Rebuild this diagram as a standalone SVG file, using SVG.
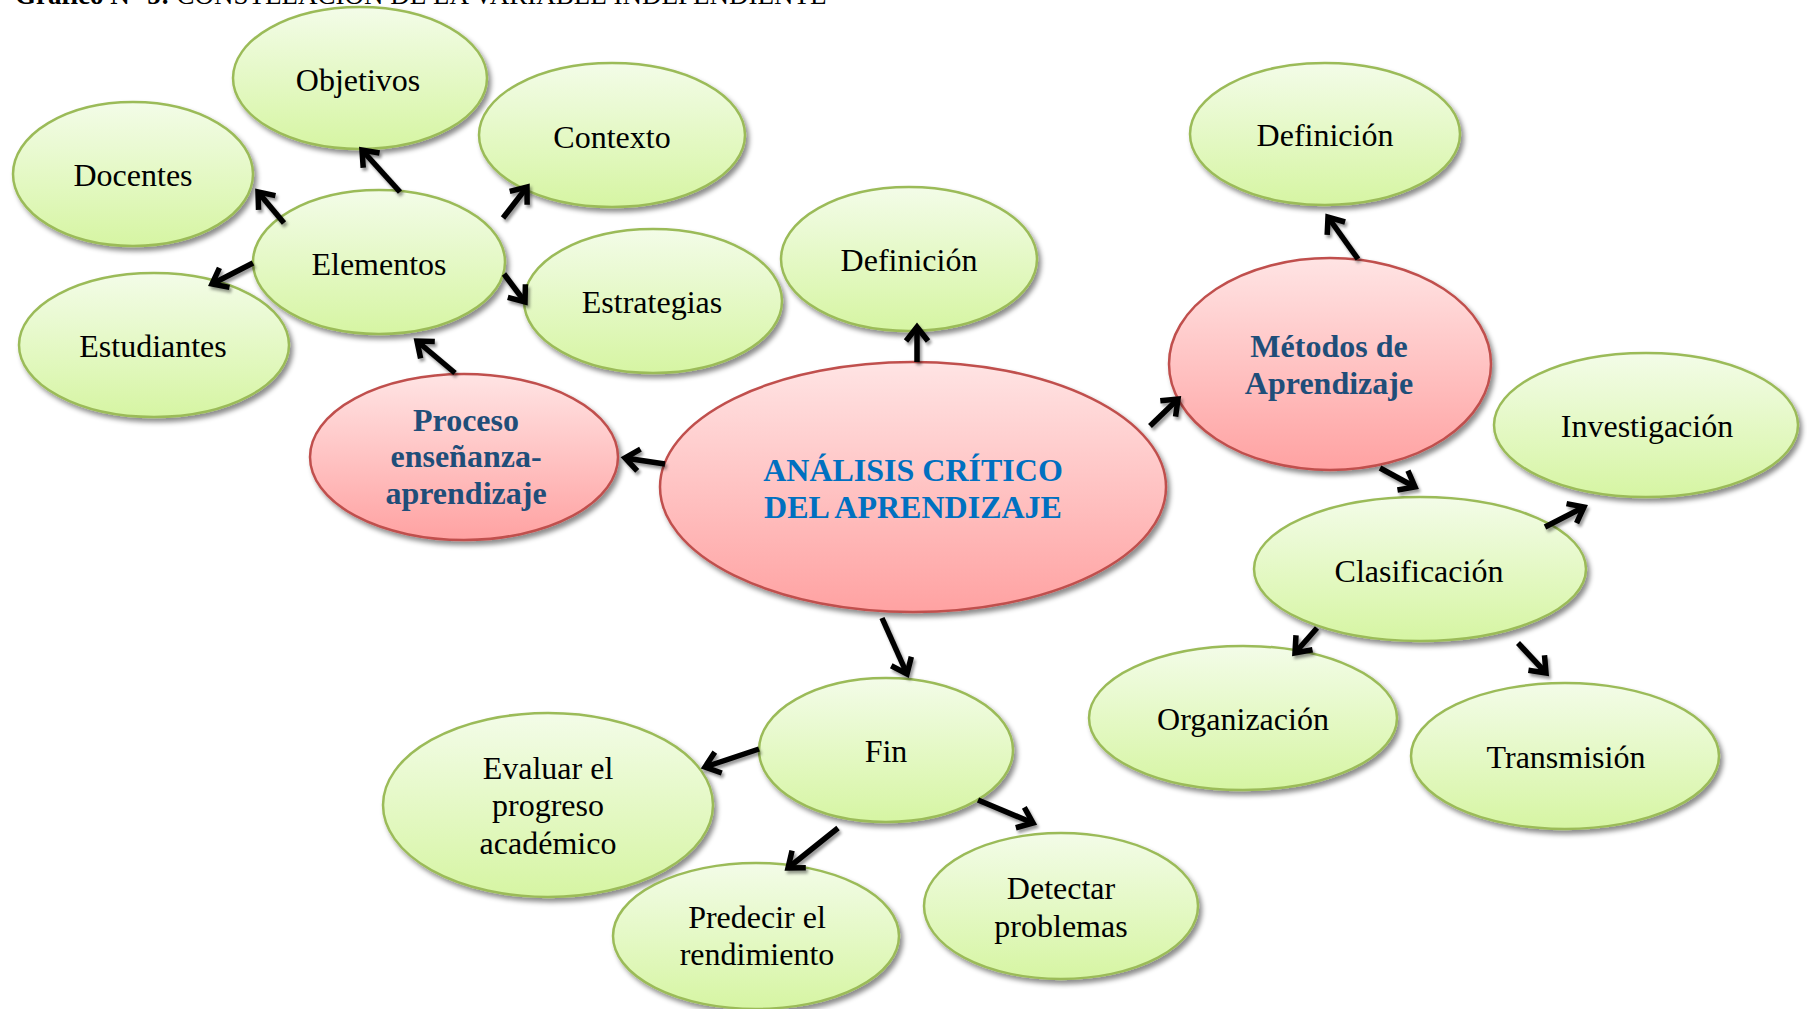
<svg xmlns="http://www.w3.org/2000/svg" width="1807" height="1009" viewBox="0 0 1807 1009">
<defs>
<style>
.g{fill:url(#gg);stroke:#9BBB59;stroke-width:2.5;filter:url(#sh)}
.r{fill:url(#rg);stroke:#C0504D;stroke-width:2.5;filter:url(#sh)}
.t{font-family:"Liberation Serif","Times New Roman",serif;font-size:32px;fill:#000;text-anchor:middle}
.tb{font-family:"Liberation Serif","Times New Roman",serif;font-size:32px;font-weight:bold;fill:#1F4E79;text-anchor:middle}
.tc{font-family:"Liberation Serif","Times New Roman",serif;font-size:32px;font-weight:bold;fill:#0070C0;text-anchor:middle}
.c{stroke:#000;stroke-width:5.5;fill:none;marker-end:url(#ah)}
</style>
<linearGradient id="gg" x1="0" y1="0" x2="0" y2="1">
<stop offset="0" stop-color="#F3FCE8"/>
<stop offset="1" stop-color="#D6F5A3"/>
</linearGradient>
<linearGradient id="rg" x1="0" y1="0" x2="0" y2="1">
<stop offset="0" stop-color="#FFE4E4"/>
<stop offset="1" stop-color="#FFA2A2"/>
</linearGradient>
<filter id="sh" x="-10%" y="-10%" width="125%" height="130%">
<feDropShadow dx="3" dy="4" stdDeviation="2.5" flood-color="#000" flood-opacity="0.45"/>
</filter>
<filter id="ash" x="-50%" y="-50%" width="200%" height="200%">
<feDropShadow dx="2" dy="3" stdDeviation="1.5" flood-color="#000" flood-opacity="0.4"/>
</filter>
<marker id="ah" markerUnits="userSpaceOnUse" markerWidth="40" markerHeight="40" viewBox="-20 -20 40 40" refX="0" refY="0" orient="auto" overflow="visible">
<path d="M-14,-11 L0,0 L-14,11" stroke="#000" stroke-width="5.5" fill="none" stroke-linejoin="miter"/>
</marker>
</defs>
<rect width="1807" height="1009" fill="#fff"/>
<text x="15" y="4" font-family="Liberation Serif, Times New Roman, serif" font-size="27" fill="#000"><tspan font-weight="bold">Gráfico N° 5:</tspan> CONSTELACIÓN DE LA VARIABLE INDEPENDIENTE</text>

<g id="node-objetivos"><ellipse class="g" cx="360" cy="78" rx="127" ry="71"/><text class="t" x="358" y="91">Objetivos</text></g>
<g id="node-docentes"><ellipse class="g" cx="133" cy="174" rx="120" ry="72"/><text class="t" x="133" y="186">Docentes</text></g>
<g id="node-estudiantes"><ellipse class="g" cx="154" cy="345" rx="135" ry="72"/><text class="t" x="153" y="357">Estudiantes</text></g>
<g id="node-contexto"><ellipse class="g" cx="612" cy="135" rx="133" ry="72"/><text class="t" x="612" y="148">Contexto</text></g>
<g id="node-elementos"><ellipse class="g" cx="379" cy="262" rx="126" ry="72"/><text class="t" x="379" y="275">Elementos</text></g>
<g id="node-estrategias"><ellipse class="g" cx="653" cy="301" rx="129" ry="72"/><text class="t" x="652" y="313">Estrategias</text></g>
<g id="node-definicion1"><ellipse class="g" cx="909" cy="259" rx="128" ry="72"/><text class="t" x="909" y="271">Definición</text></g>
<g id="node-proceso"><ellipse class="r" cx="464" cy="457" rx="154" ry="83"/><text class="tb" x="466" y="431">Proceso</text><text class="tb" x="466" y="467">enseñanza-</text><text class="tb" x="466" y="504">aprendizaje</text></g>
<g id="node-central"><ellipse class="r" cx="913" cy="487" rx="253" ry="125"/><text class="tc" x="913" y="481">ANÁLISIS CRÍTICO</text><text class="tc" x="913" y="518">DEL APRENDIZAJE</text></g>
<g id="node-definicion2"><ellipse class="g" cx="1325" cy="134" rx="135" ry="71"/><text class="t" x="1325" y="146">Definición</text></g>
<g id="node-metodos"><ellipse class="r" cx="1330" cy="364" rx="161" ry="106"/><text class="tb" x="1329" y="357">Métodos de</text><text class="tb" x="1329" y="394">Aprendizaje</text></g>
<g id="node-investigacion"><ellipse class="g" cx="1646" cy="425" rx="152" ry="72"/><text class="t" x="1647" y="437">Investigación</text></g>
<g id="node-clasificacion"><ellipse class="g" cx="1420" cy="569" rx="166" ry="72"/><text class="t" x="1419" y="582">Clasificación</text></g>
<g id="node-organizacion"><ellipse class="g" cx="1243" cy="718" rx="154" ry="72"/><text class="t" x="1243" y="730">Organización</text></g>
<g id="node-transmision"><ellipse class="g" cx="1565" cy="756" rx="154" ry="73"/><text class="t" x="1566" y="768">Transmisión</text></g>
<g id="node-fin"><ellipse class="g" cx="886" cy="750" rx="127" ry="72"/><text class="t" x="886" y="762">Fin</text></g>
<g id="node-evaluar"><ellipse class="g" cx="548" cy="805" rx="165" ry="92"/><text class="t" x="548" y="779">Evaluar el</text><text class="t" x="548" y="816">progreso</text><text class="t" x="548" y="854">académico</text></g>
<g id="node-predecir"><ellipse class="g" cx="756" cy="936" rx="143" ry="73"/><text class="t" x="757" y="928">Predecir el</text><text class="t" x="757" y="965">rendimiento</text></g>
<g id="node-detectar"><ellipse class="g" cx="1061" cy="906" rx="137" ry="73"/><text class="t" x="1061" y="899">Detectar</text><text class="t" x="1061" y="937">problemas</text></g>

<g id="connectors" filter="url(#ash)">
<line class="c" x1="400" y1="192" x2="362" y2="150"/>
<line class="c" x1="284" y1="223" x2="258" y2="192"/>
<line class="c" x1="253" y1="263" x2="212" y2="284"/>
<line class="c" x1="503" y1="218" x2="527" y2="187"/>
<line class="c" x1="504" y1="274" x2="525" y2="302"/>
<line class="c" x1="455" y1="373" x2="417" y2="341"/>
<line class="c" x1="665" y1="464" x2="625" y2="458"/>
<line class="c" x1="917" y1="362" x2="917" y2="327"/>
<line class="c" x1="1150" y1="426" x2="1178" y2="399"/>
<line class="c" x1="882" y1="618" x2="907" y2="674"/>
<line class="c" x1="1358" y1="259" x2="1328" y2="217"/>
<line class="c" x1="1380" y1="468" x2="1415" y2="487"/>
<line class="c" x1="1545" y1="527" x2="1584" y2="507"/>
<line class="c" x1="1317" y1="628" x2="1295" y2="653"/>
<line class="c" x1="1518" y1="643" x2="1546" y2="673"/>
<line class="c" x1="759" y1="749" x2="705" y2="767"/>
<line class="c" x1="838" y1="828" x2="788" y2="868"/>
<line class="c" x1="978" y1="800" x2="1033" y2="823"/>
</g>
</svg>
